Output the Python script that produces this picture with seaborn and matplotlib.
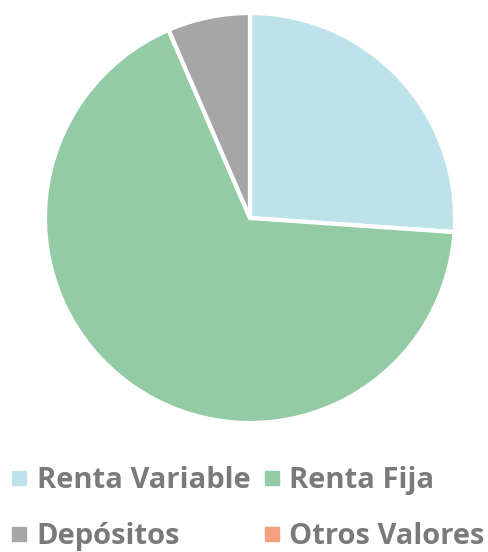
import numpy as np
import matplotlib
matplotlib.use("Agg")
import matplotlib.pyplot as plt
from matplotlib.lines import Line2D
import seaborn as sns

# Data (portfolio share, %)
categories = ["Renta Variable", "Renta Fija", "Depósitos", "Otros Valores"]
shares = [26.1, 67.4, 6.5, 0.0]
colors = ["#BEE2E9", "#93CBA5", "#A6A6A6", "#F4A07E"]

sns.set_theme(style="white")
plt.rcParams['font.family'] = ['Open Sans', 'DejaVu Sans']

W, H = 488, 552
fig = plt.figure(figsize=(W / 100, H / 100), dpi=100)

# pie circle centred at (250, 218) px, radius ~205 px
cx, cy, r = 250, 218, 205
ax = fig.add_axes([(cx - r) / W, (H - cy - r) / H, 2 * r / W, 2 * r / H])
palette = sns.color_palette(colors)

ax.pie(shares, colors=palette, startangle=90, counterclock=False,
       radius=1.0, wedgeprops=dict(edgecolor="white", linewidth=3))
ax.set_xlim(-1.0, 1.0)
ax.set_ylim(-1.0, 1.0)
ax.set_aspect("equal")
ax.axis("off")

# legend is filled row by row in the reference; matplotlib fills by column
order = [0, 2, 1, 3]
handles = [Line2D([0], [0], marker="s", linestyle="none", markersize=9.4,
                  markerfacecolor=palette[i], markeredgecolor=palette[i]) for i in order]
labels = [categories[i] for i in order]
leg = fig.legend(handles, labels, ncol=2, frameon=False,
                 loc="lower left", bbox_to_anchor=(-0.017, -0.035),
                 prop=dict(size=21, weight="bold"), labelcolor="#7A7A7A",
                 handlelength=0.48, handletextpad=0.36, columnspacing=0.5,
                 labelspacing=0.93, borderaxespad=0.3)

fig.savefig("out.png", dpi=100)
